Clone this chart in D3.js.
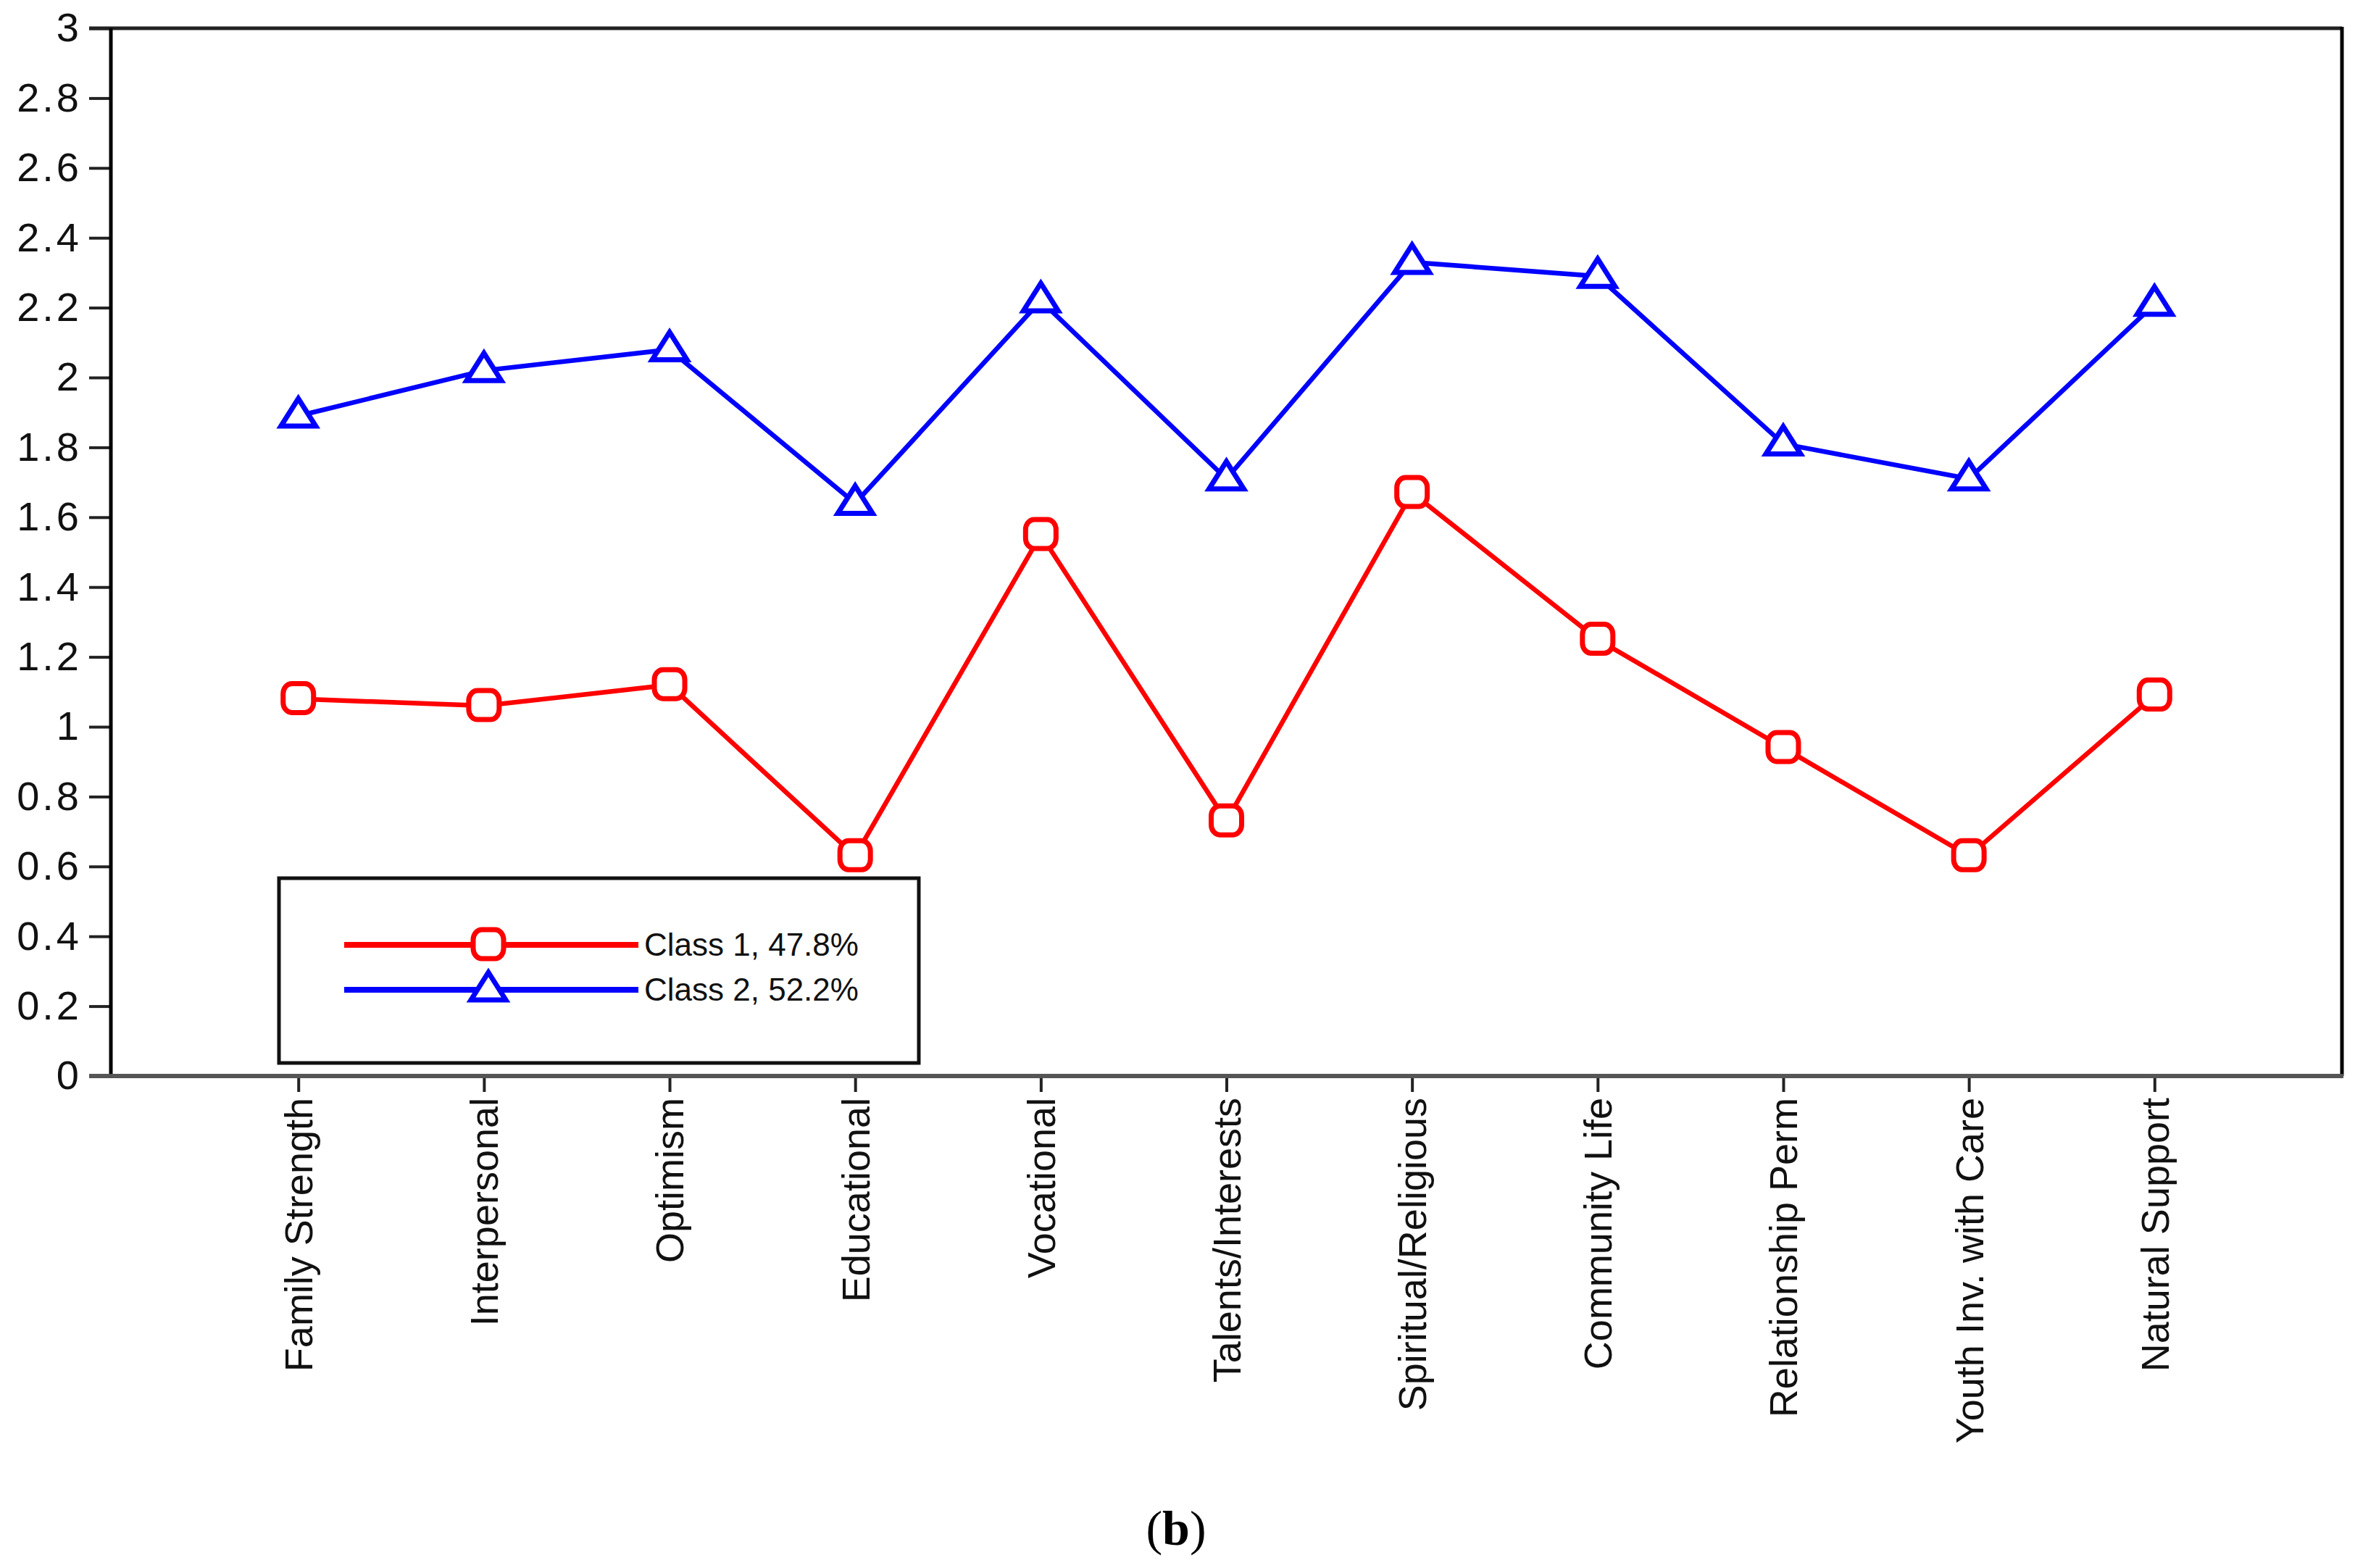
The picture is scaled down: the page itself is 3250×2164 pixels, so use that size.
<!DOCTYPE html>
<html>
<head>
<meta charset="utf-8">
<script src="https://cdn.jsdelivr.net/npm/d3@7"></script>
<style>
  body { margin: 0; background: #fff; }
  svg { display: block; }
</style>
</head>
<body>
<svg id="chart" width="3250" height="2164"></svg>
<script>
var categories = ["Family Strength", "Interpersonal", "Optimism", "Educational", "Vocational",
  "Talents/Interests", "Spiritual/Religious", "Community Life", "Relationship Perm",
  "Youth Inv. with Care", "Natural Support"];
var class1 = [1.08, 1.06, 1.12, 0.63, 1.55, 0.73, 1.67, 1.25, 0.94, 0.63, 1.09];
var class2 = [1.89, 2.02, 2.08, 1.64, 2.22, 1.71, 2.33, 2.29, 1.81, 1.71, 2.21];
var yTicks = [0, 0.2, 0.4, 0.6, 0.8, 1, 1.2, 1.4, 1.6, 1.8, 2, 2.2, 2.4, 2.6, 2.8, 3];
var legendLabels = ["Class 1, 47.8%", "Class 2, 52.2%"];

var svg = d3.select("#chart");
var plotLeft = 153, plotRight = 3232, plotTop = 39, plotBottom = 1485;

var x = d3.scalePoint().domain(categories).range([plotLeft, plotRight]).padding(1.01);
var y = d3.scaleLinear().domain([0, 3]).range([plotBottom, plotTop]);

//frame: top and right borders
svg.append("line")
  .attr("x1", plotLeft - 30).attr("x2", plotRight).attr("y1", plotTop).attr("y2", plotTop)
  .attr("stroke", "#222").attr("stroke-width", 5);
svg.append("line")
  .attr("x1", plotRight).attr("x2", plotRight).attr("y1", plotTop - 2).attr("y2", plotBottom)
  .attr("stroke", "#000").attr("stroke-width", 5);

//y axis
var yAxis = svg.append("g").attr("transform", "translate(" + plotLeft + ",0)")
  .call(d3.axisLeft(y).tickValues(yTicks).tickSize(30).tickPadding(10)
    .tickFormat(function(d){ return d3.format("~g")(d); }));
yAxis.select(".domain").remove();
yAxis.selectAll(".tick line").attr("stroke", "#222").attr("stroke-width", 4);
yAxis.selectAll("text").attr("font-family", "Liberation Sans, Arial, sans-serif")
  .attr("font-size", 56).attr("fill", "#111").attr("letter-spacing", 4);
svg.append("line")
  .attr("x1", plotLeft).attr("x2", plotLeft).attr("y1", plotTop).attr("y2", plotBottom)
  .attr("stroke", "#000").attr("stroke-width", 5);

//x axis
var xAxis = svg.append("g").attr("transform", "translate(0," + plotBottom + ")")
  .call(d3.axisBottom(x).tickSize(22).tickPadding(0));
xAxis.select(".domain").remove();
xAxis.selectAll(".tick line").attr("stroke", "#222").attr("stroke-width", 4);
xAxis.selectAll("text")
  .attr("font-family", "Liberation Sans, Arial, sans-serif")
  .attr("font-size", 54).attr("fill", "#111")
  .attr("text-anchor", "end")
  .attr("dy", "0.35em")
  .attr("transform", "translate(0,30) rotate(-90)")
  .attr("x", 0).attr("y", 0);
svg.append("line")
  .attr("x1", plotLeft - 30).attr("x2", plotRight + 2).attr("y1", plotBottom).attr("y2", plotBottom)
  .attr("stroke", "#555").attr("stroke-width", 6);

var series = [
  { values: class1, color: "#ff0000", marker: "box" },
  { values: class2, color: "#0000ff", marker: "tri" }
];

var line = d3.line().x(function(d, i){ return x(categories[i]); }).y(function(d){ return y(d); });

var drawMarker = function(g, type, color){
  if (type == "box") {
    g.append("rect")
      .attr("x", -21).attr("y", -21).attr("width", 42).attr("height", 40)
      .attr("rx", 12).attr("ry", 14)
      .attr("fill", "#fff").attr("stroke", color).attr("stroke-width", 7);
  } else {
    g.append("path")
      .attr("d", "M0,-24 L24,14 L-24,14 Z")
      .attr("fill", "#fff").attr("stroke", color).attr("stroke-width", 7)
      .attr("stroke-linejoin", "miter");
  }
};

series.forEach(function(s){
  svg.append("path")
    .datum(s.values)
    .attr("d", line)
    .attr("fill", "none")
    .attr("stroke", s.color)
    .attr("stroke-width", 6.5);
  s.values.forEach(function(v, i){
    var g = svg.append("g").attr("transform", "translate(" + x(categories[i]) + "," + y(v) + ")");
    drawMarker(g, s.marker, s.color);
  });
});

//legend
svg.append("rect")
  .attr("x", 385).attr("y", 1212).attr("width", 883).attr("height", 255)
  .attr("fill", "#fff").attr("stroke", "#111").attr("stroke-width", 5);
var legendY = d3.scalePoint().domain(legendLabels).range([1304, 1366]);
series.forEach(function(s, i){
  var ly = legendY(legendLabels[i]);
  svg.append("line")
    .attr("x1", 475).attr("x2", 881).attr("y1", ly).attr("y2", ly)
    .attr("stroke", s.color).attr("stroke-width", 8);
  var g = svg.append("g").attr("transform", "translate(674," + ly + ")");
  drawMarker(g, s.marker, s.color);
  svg.append("text")
    .attr("x", 889).attr("y", ly).attr("dy", "0.35em")
    .attr("font-family", "Liberation Sans Narrow, Arial Narrow, Liberation Sans, sans-serif")
    .attr("font-size", 44).attr("fill", "#111")
    .text(legendLabels[i]);
});

//caption
var caption = svg.append("text")
  .attr("x", 1623).attr("y", 2132).attr("text-anchor", "middle")
  .attr("font-family", "Liberation Serif, Times New Roman, serif")
  .attr("font-size", 68).attr("fill", "#000");
caption.append("tspan").text("(");
caption.append("tspan").attr("font-weight", "bold").text("b");
caption.append("tspan").text(")");
</script>
</body>
</html>
